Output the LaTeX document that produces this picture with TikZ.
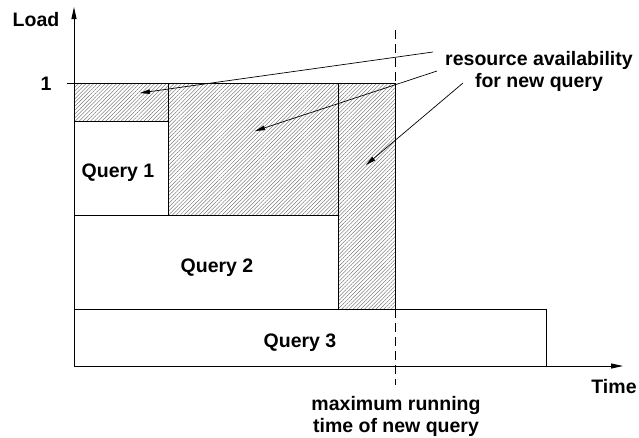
\documentclass[tikz,border=0pt]{standalone}
\usepackage{fontspec}
\setmainfont{Liberation Sans}
\usetikzlibrary{arrows.meta,patterns.meta}
\begin{document}
\begin{tikzpicture}[x=1pt,y=-1pt,
  lbl/.style={font=\bfseries\fontsize{19.5}{22}\selectfont, inner sep=0pt},
  hatch/.style={pattern={Lines[angle=45,distance=2.7pt,line width=0.35pt]}, pattern color=black!65},
  edge/.style={line width=0.9pt},
  dashline/.style={line width=0.9pt, dash pattern=on 9pt off 5pt},
  ax/.style={line width=0.9pt,-{Triangle[length=12pt,width=5pt]}},
  callout/.style={line width=0.7pt,-{Triangle[length=10pt,width=4.5pt]}}]
\useasboundingbox (0,0) rectangle (639,437);
% hatched free capacity
\fill[hatch] (74,83) -- (395,83) -- (395,309) -- (338,309) -- (338,215) -- (168,215) -- (168,121) -- (74,121) -- cycle;
\draw[edge] (67,83) -- (395,83);
\draw[edge] (168,83) -- (168,121);
\draw[edge] (338,83) -- (338,215);
\draw[edge] (395,83) -- (395,309);
% query boxes
\draw[edge] (74,121) rectangle (168,215);
\draw[edge] (74,215) rectangle (338,309);
\draw[edge] (74,309) rectangle (546,366);
% dashed limit line
\coordinate (dtop) at (395,30);
\coordinate (dmid1) at (395,83);
\coordinate (dmid2) at (395,309);
\coordinate (dbot) at (395,385);
\draw[dashline] (dtop) -- (dmid1);
\draw[dashline] (dmid2) -- (dbot);
% axes
\coordinate (O) at (74,366);
\coordinate (ytip) at (74,7);
\coordinate (xtip) at (623,366);
\draw[ax] (O) -- (ytip);
\draw[ax] (O) -- (xtip);
% labels
\node[lbl, anchor=base] (load) at (36,26) {Load};
\node[lbl, anchor=base] (one) at (46,90) {1};
\node[lbl, anchor=base] (time) at (614,393) {Time};
\node[lbl, anchor=base] (q1) at (118,177) {Query 1};
\node[lbl, anchor=base] (q2) at (217,272) {Query 2};
\node[lbl, anchor=base] (q3) at (300,347) {Query 3};
\node[lbl, align=center] (res) at (539,71.5) {resource availability\\for new query};
\node[lbl, align=center] (mrt) at (396,416.5) {maximum running\\time of new query};
% callouts
\coordinate (s1) at (433,52);  \coordinate (t1) at (140,93);
\coordinate (s2) at (437,71);  \coordinate (t2) at (255,131);
\coordinate (s3) at (463,83);  \coordinate (t3) at (366,165);
\draw[callout] (s1) -- (t1);
\draw[callout] (s2) -- (t2);
\draw[callout] (s3) -- (t3);
\end{tikzpicture}
\end{document}
